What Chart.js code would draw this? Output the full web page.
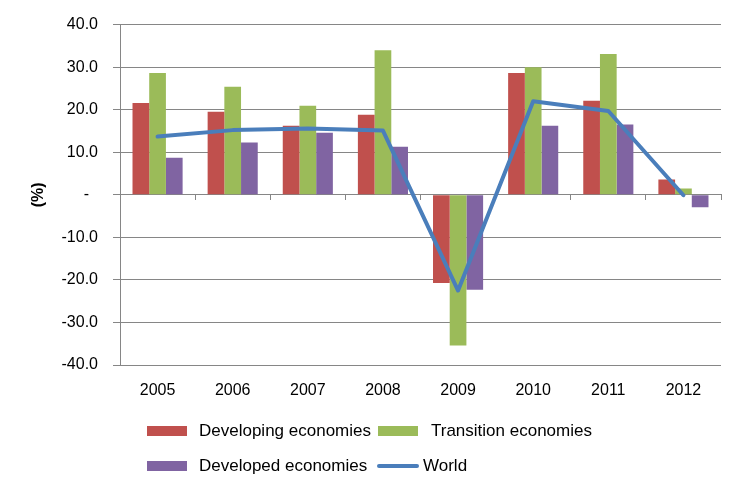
<!DOCTYPE html>
<html>
<head>
<meta charset="utf-8">
<script src="https://cdn.jsdelivr.net/npm/chart.js@4/dist/chart.umd.min.js"></script>
<style>
  html, body { margin: 0; padding: 0; background: #fff; }
  #wrap { position: relative; width: 744px; height: 493px; overflow: hidden; }
  canvas { position: absolute; left: 0; top: 0; }
  .lg-text { position: absolute; font-family: "Liberation Sans", Arial, sans-serif; font-size: 17px; line-height: 20px; color: #000; white-space: nowrap; }
  .lg-box { position: absolute; width: 40px; height: 10px; }
  .lg-line { position: absolute; width: 42px; height: 4px; border-radius: 2px; }
</style>
</head>
<body>
<div id="wrap">
  <canvas id="c" width="744" height="493"></canvas>
</div>
<script>
// ---- data ----
const years = ["2005", "2006", "2007", "2008", "2009", "2010", "2011", "2012"];
const developing = [21.6, 19.5, 16.2, 18.8, -20.7, 28.6, 22.1, 3.6];
const transition = [28.6, 25.4, 20.9, 34.0, -35.4, 30.0, 33.1, 1.5];
const developed = [8.7, 12.3, 14.6, 11.3, -22.3, 16.2, 16.5, -2.9];
const world = [13.7, 15.2, 15.6, 15.1, -22.5, 22.0, 19.7, -0.1];
const seriesNames = ["Developing economies", "Transition economies", "Developed economies", "World"];
const yTicks = [-40, -30, -20, -10, 0, 10, 20, 30, 40];

// ---- styles ----
const colors = ["#C0504D", "#9BBB59", "#8064A2", "#4A7EBB"];
const gridColor = "#868686";
const fontFamily = '"Liberation Sans", Arial, sans-serif';

const chart = new Chart(document.getElementById('c'), {
  type: 'bar',
  data: {
    labels: years,
    datasets: [
      { type: 'line', label: seriesNames[3], data: world, borderColor: colors[3], backgroundColor: colors[3],
        borderWidth: 4, pointRadius: 0, tension: 0, order: 0, xAxisID: 'x', borderCapStyle: 'round', borderJoinStyle: 'round' },
      { label: seriesNames[0], data: developing, backgroundColor: colors[0], order: 1, xAxisID: 'x' },
      { label: seriesNames[1], data: transition, backgroundColor: colors[1], order: 1, xAxisID: 'x' },
      { label: seriesNames[2], data: developed, backgroundColor: colors[2], order: 1, xAxisID: 'x' }
    ]
  },
  options: {
    responsive: false,
    devicePixelRatio: 1,
    animation: false,
    datasets: { bar: { categoryPercentage: 0.667, barPercentage: 1.0, borderWidth: 0 } },
    layout: { padding: { top: 20, right: 23, bottom: 88, left: 0 } },
    plugins: { legend: { display: false }, tooltip: { enabled: false } },
    scales: {
      x: {
        type: 'category',
        position: 'bottom',
        offset: true,
        grid: { display: false, drawTicks: false },
        border: { display: false },
        ticks: { color: '#000', font: { family: fontFamily, size: 16 }, padding: 16, maxRotation: 0, autoSkip: false },
        afterFit: (s) => { s.height = 40; }
      },
      x2: {
        type: 'category',
        labels: years,
        position: { y: 0 },
        offset: true,
        grid: { drawOnChartArea: false, offset: true, drawTicks: true, tickLength: 5, color: gridColor, lineWidth: 1 },
        border: { display: true, color: gridColor, width: 1 },
        ticks: { display: false }
      },
      y: {
        min: -40, max: 40,
        afterBuildTicks: (s) => { s.ticks = yTicks.map(v => ({ value: v })); },
        grid: { color: gridColor, lineWidth: 1, drawTicks: true, tickLength: 7 },
        border: { display: true, color: gridColor, width: 1 },
        ticks: {
          color: '#000', font: { family: fontFamily, size: 16 }, padding: 15,
          callback: (v) => v === 0 ? '-  ' : Number(v).toFixed(1)
        },
        title: { display: true, text: '(%)', color: '#000', font: { family: fontFamily, size: 16, weight: 'bold' }, padding: { top: 29, bottom: 0 } },
        afterFit: (s) => { s.width = 120; }
      }
    }
  }
});

// ---- HTML legend built from datasets ----
const wrap = document.getElementById('wrap');
const legendItems = [
  { idx: 0, kind: 'box', mx: 147, tx: 199, row: 0 },
  { idx: 1, kind: 'box', mx: 378, tx: 431, row: 0 },
  { idx: 2, kind: 'box', mx: 147, tx: 199, row: 1 },
  { idx: 3, kind: 'line', mx: 377, tx: 423, row: 1 }
];
const rowCenters = [430.5, 466];
legendItems.forEach(it => {
  const cy = rowCenters[it.row];
  const mark = document.createElement('div');
  if (it.kind === 'box') {
    mark.className = 'lg-box';
    mark.style.left = it.mx + 'px';
    mark.style.top = (cy - 5) + 'px';
  } else {
    mark.className = 'lg-line';
    mark.style.left = it.mx + 'px';
    mark.style.top = (cy - 2) + 'px';
  }
  mark.style.background = colors[it.idx];
  wrap.appendChild(mark);
  const t = document.createElement('div');
  t.className = 'lg-text';
  t.textContent = seriesNames[it.idx];
  t.style.left = it.tx + 'px';
  t.style.top = (cy - 10) + 'px';
  wrap.appendChild(t);
});
</script>
</body>
</html>
